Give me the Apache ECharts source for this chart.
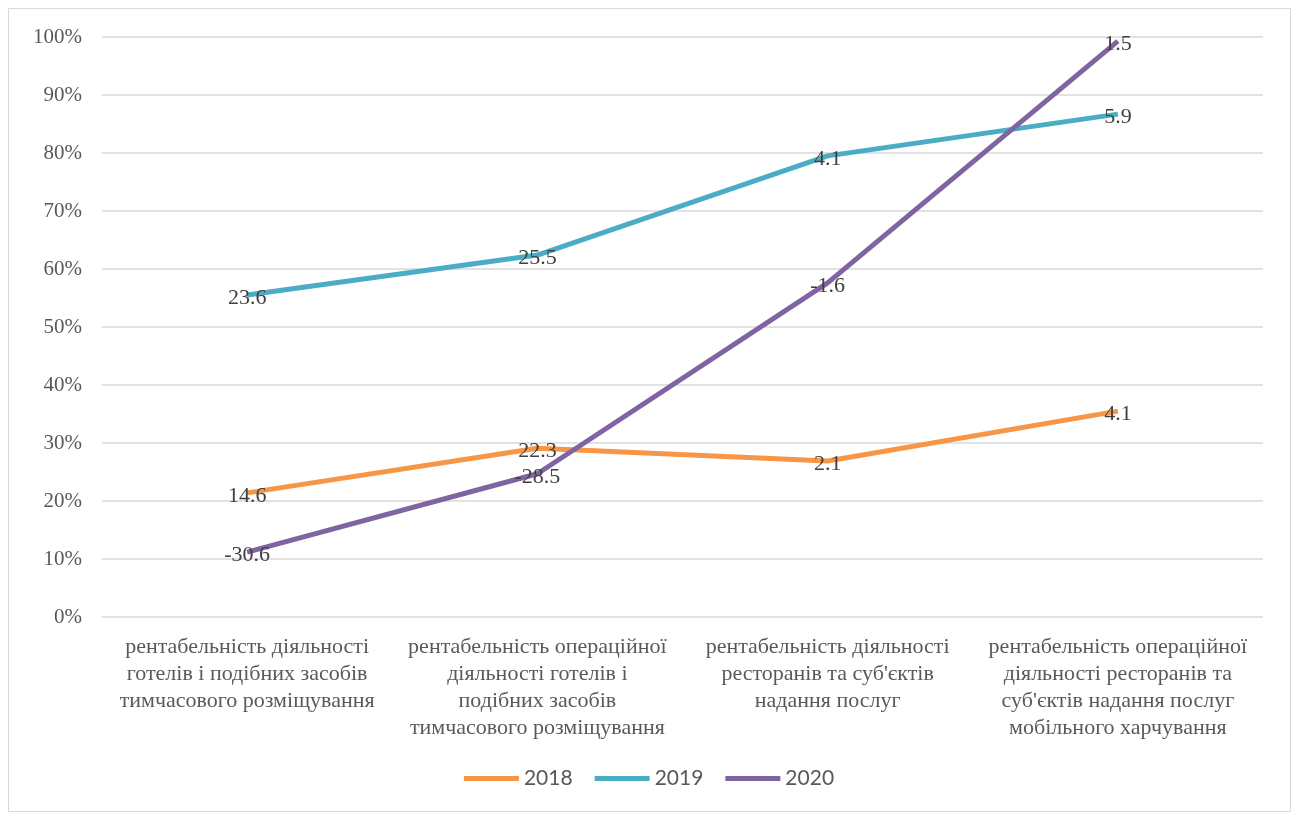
<!DOCTYPE html>
<html lang="uk">
<head>
<meta charset="utf-8">
<script src="https://cdn.jsdelivr.net/npm/echarts@6/dist/echarts.min.js"></script>
<style>
    html, body { margin: 0; padding: 0; background: #fff; }
    #chart { width: 1298px; height: 816px; }
</style>
</head>
<body>
<div id="chart"></div>
<script>
    // категорії осі X (з переносами як на картинці)
    var categories = [
        'рентабельність діяльності\nготелів і подібних засобів\nтимчасового розміщування',
        'рентабельність операційної\nдіяльності готелів і\nподібних засобів\nтимчасового розміщування',
        'рентабельність діяльності\nресторанів та суб\'єктів\nнадання послуг',
        'рентабельність операційної\nдіяльності ресторанів та\nсуб\'єктів надання послуг\nмобільного харчування'
    ];
    var years = ['2018', '2019', '2020'];

    // положення точок на осі (%)
    var pos2018 = [21.4, 29.1, 26.9, 35.5];
    var pos2019 = [55.5, 62.4, 79.5, 86.7];
    var pos2020 = [11.2, 24.7, 57.6, 99.3];

    // підписи даних
    var lbl2018 = ['14.6', '22.3', '2.1', '4.1'];
    var lbl2019 = ['23.6', '25.5', '4.1', '5.9'];
    var lbl2020 = ['-30.6', '-28.5', '-1.6', '1.5'];

    var colors = ['#F79646', '#4BACC6', '#8064A2'];

    function makeSeries(name, values, labels, color) {
        return {
            name: name,
            type: 'line',
            data: values.map(function (v, i) { return { value: v, labelText: labels[i] }; }),
            symbol: 'circle',
            symbolSize: 0.1,
            showSymbol: true,
            lineStyle: { width: 5, color: color },
            itemStyle: { color: color },
            label: {
                show: true,
                position: 'inside',
                offset: [0, 3],
                fontFamily: 'Liberation Serif',
                fontSize: 22,
                color: '#404040',
                formatter: function (p) { return p.data.labelText; }
            },
            emphasis: { disabled: true },
            animation: false
        };
    }

    var chart = echarts.init(document.getElementById('chart'));
    chart.setOption({
        backgroundColor: '#fff',
        color: colors,
        graphic: [{
            type: 'rect',
            shape: { x: 8.5, y: 8.5, width: 1282, height: 803 },
            style: { fill: 'none', stroke: '#d9d9d9', lineWidth: 1 },
            silent: true
        }],
        grid: { left: 102, right: 35, top: 37, bottom: 199 },
        legend: {
            bottom: 22,
            left: 'center',
            icon: 'rect',
            itemWidth: 55,
            itemHeight: 5,
            itemGap: 22,
            textStyle: { fontFamily: 'Lato', fontSize: 21, color: '#595959' },
            data: years
        },
        xAxis: {
            type: 'category',
            data: categories,
            axisLine: { show: false },
            axisTick: { show: false },
            axisLabel: {
                interval: 0,
                margin: 17,
                fontFamily: 'Liberation Serif',
                fontSize: 22,
                lineHeight: 27,
                color: '#595959',
                align: 'center'
            }
        },
        yAxis: {
            type: 'value',
            min: 0,
            max: 100,
            interval: 10,
            axisLine: { show: false },
            axisTick: { show: false },
            splitLine: { lineStyle: { color: '#d9d9d9', width: 1.5 } },
            axisLabel: {
                margin: 20,
                fontFamily: 'Liberation Serif',
                fontSize: 21,
                color: '#595959',
                formatter: '{value}%'
            }
        },
        series: [
            makeSeries(years[0], pos2018, lbl2018, colors[0]),
            makeSeries(years[1], pos2019, lbl2019, colors[1]),
            makeSeries(years[2], pos2020, lbl2020, colors[2])
        ]
    });
</script>
</body>
</html>
